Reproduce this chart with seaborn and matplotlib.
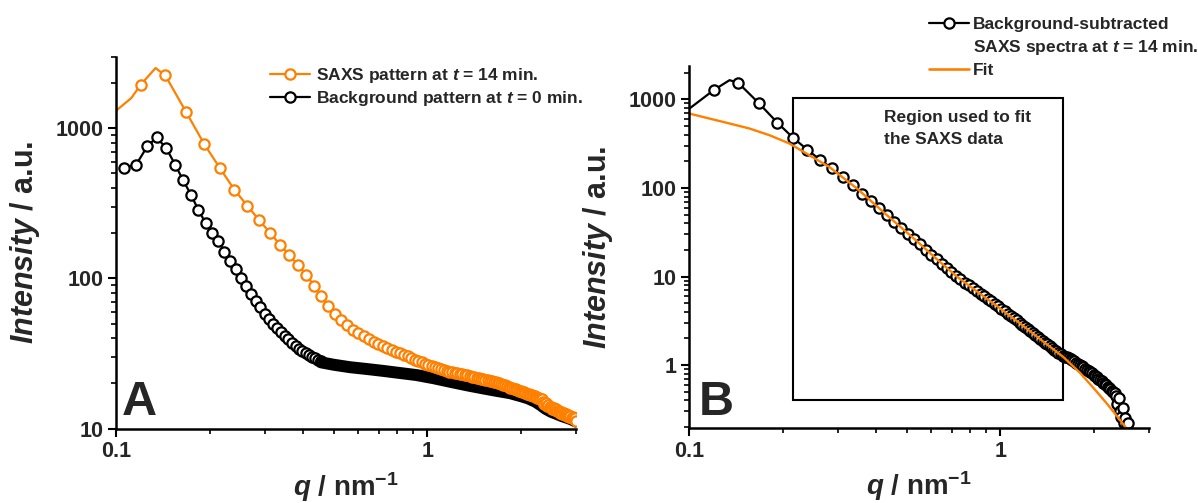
import seaborn as sns
import matplotlib.pyplot as plt
from matplotlib.lines import Line2D
from matplotlib.patches import Rectangle
from matplotlib.ticker import FixedLocator, FixedFormatter, LogLocator, NullFormatter

# Panel A: SAXS pattern at t = 14 min (orange), q in nm^-1, intensity in a.u.
saxs_q = [0.096, 0.112, 0.120, 0.134, 0.144, 0.168, 0.192, 0.216, 0.240, 0.264,
          0.288, 0.312, 0.336, 0.360, 0.384, 0.408, 0.432, 0.456, 0.480, 0.504,
          0.528, 0.552, 0.576, 0.600, 0.624, 0.648, 0.672, 0.696, 0.720, 0.744,
          0.768, 0.792, 0.816, 0.840, 0.864, 0.888, 0.912, 0.936, 0.960, 0.984,
          1.008, 1.032, 1.056, 1.080, 1.104, 1.128, 1.152, 1.176, 1.200, 1.224,
          1.248, 1.272, 1.296, 1.320, 1.344, 1.368, 1.392, 1.416, 1.440, 1.464,
          1.488, 1.512, 1.536, 1.560, 1.584, 1.608, 1.632, 1.656, 1.680, 1.704,
          1.728, 1.752, 1.776, 1.800, 1.824, 1.848, 1.872, 1.896, 1.920, 1.944,
          1.968, 1.992, 2.016, 2.040, 2.064, 2.088, 2.112, 2.136, 2.160, 2.184,
          2.208, 2.232, 2.256, 2.280, 2.304, 2.328, 2.352, 2.376, 2.400, 2.424,
          2.448, 2.472, 2.496, 2.520, 2.544, 2.568, 2.592, 2.616, 2.640, 2.664,
          2.688, 2.712, 2.736, 2.760, 2.784, 2.808, 2.832, 2.856, 2.880, 2.904,
          2.928, 2.952, 2.976, 3.000]
saxs_I = [1220, 1590, 1950, 2520, 2250, 1283, 785, 540, 390, 305,
          245, 202, 168, 143, 123, 106, 89.6, 76.5, 65.9, 57.9,
          53.0, 48.7, 45.6, 43.2, 41.1, 39.3, 37.8, 36.4, 35.2, 34.2,
          33.4, 32.5, 31.7, 30.9, 30.2, 29.5, 28.8, 28.3, 27.7, 27.1,
          26.6, 26.0, 25.6, 25.3, 24.9, 24.6, 24.3, 23.9, 23.7, 23.5,
          23.4, 23.2, 23.0, 22.8, 22.6, 22.4, 22.2, 22.0, 21.8, 21.7,
          21.5, 21.3, 21.1, 21.0, 20.8, 20.6, 20.5, 20.3, 20.2, 20.1,
          19.8, 19.6, 19.4, 19.2, 19.0, 18.7, 18.6, 18.4, 18.2, 18.0,
          17.9, 17.7, 17.5, 17.4, 17.2, 17.1, 16.9, 16.8, 16.6, 16.5,
          16.4, 16.2, 16.0, 15.9, 15.8, 15.7, 15.0, 14.6, 14.8, 14.2,
          14.4, 13.9, 14.0, 13.5, 13.7, 13.2, 13.4, 13.0, 13.1, 12.7,
          12.9, 12.5, 12.7, 12.3, 12.5, 12.1, 12.3, 11.9, 12.1, 11.7,
          11.9, 11.5, 11.7, 11.3]
saxs_line_only = [1, 3]   # spline overshoot points, no symbol drawn

# Panel A: background pattern at t = 0 min (black), sparse part
bg_q = [0.106, 0.116, 0.126, 0.135, 0.145, 0.155, 0.164, 0.174, 0.184, 0.194,
        0.203, 0.213, 0.223, 0.232, 0.242, 0.252, 0.261, 0.271, 0.281, 0.291,
        0.300, 0.310, 0.320, 0.329, 0.339, 0.349, 0.358, 0.368, 0.378, 0.388,
        0.397, 0.407, 0.417, 0.426, 0.436, 0.446, 0.455]
bg_I = [543, 571, 757, 869, 738, 571, 454, 362, 285, 234,
        202, 177, 151, 131, 116, 100, 89.0, 79.2, 71.1, 64.0,
        58.0, 53.8, 50.0, 46.8, 44.0, 41.4, 39.2, 37.4, 35.7, 34.1,
        32.9, 31.8, 30.8, 30.0, 29.3, 28.7, 28.0]
# dense part of the background (points overlap into a solid band)
bg_band_q = [0.455, 0.50, 0.565, 0.64, 0.721, 0.82, 0.923, 1.05, 1.18, 1.34,
             1.51, 1.67, 1.84, 2.0, 2.1, 2.22, 2.3, 2.4, 2.5, 2.6, 2.7, 2.8, 2.9, 3.0]
bg_band_I = [27.6, 26.6, 25.6, 24.9, 24.2, 23.4, 22.7, 21.6, 20.5, 19.4,
             18.5, 17.8, 17.2, 16.4, 15.9, 15.1, 14.4, 13.5, 12.9, 12.5, 12.1, 11.8, 11.5, 11.1]

# Panel B: background-subtracted spectrum at t = 14 min
sub_q = [0.096, 0.120, 0.135, 0.144, 0.168, 0.192, 0.216, 0.240, 0.264, 0.288,
         0.312, 0.336, 0.360, 0.384, 0.408, 0.432, 0.456, 0.480, 0.504, 0.528,
         0.552, 0.576, 0.600, 0.624, 0.648, 0.672, 0.696, 0.720, 0.744, 0.768,
         0.792, 0.816, 0.840, 0.864, 0.888, 0.912, 0.936, 0.960, 0.984, 1.008,
         1.032, 1.056, 1.080, 1.104, 1.128, 1.152, 1.176, 1.200, 1.224, 1.248,
         1.272, 1.296, 1.320, 1.344, 1.368, 1.392, 1.416, 1.440, 1.464, 1.488,
         1.512, 1.536, 1.560, 1.584, 1.608, 1.632, 1.656, 1.680, 1.704, 1.728,
         1.752, 1.776, 1.800, 1.824, 1.848, 1.872, 1.896, 1.920, 1.944, 1.968,
         1.992, 2.016, 2.040, 2.064, 2.088, 2.112, 2.136, 2.160, 2.184, 2.208,
         2.232, 2.256, 2.280, 2.304, 2.328, 2.352, 2.376, 2.400, 2.424, 2.448,
         2.472, 2.496, 2.520, 2.544, 2.568]
sub_I = [700, 1270, 1648, 1536, 899, 548, 368, 270, 207, 166,
         133, 107, 86.5, 70.9, 58.7, 49.2, 41.6, 35.5, 30.5, 26.4,
         23.0, 20.1, 17.7, 15.7, 14.0, 12.5, 11.2, 10.1, 9.26, 8.56,
         7.93, 7.36, 6.85, 6.39, 5.97, 5.59, 5.24, 4.92, 4.62, 4.33,
         4.06, 3.81, 3.59, 3.38, 3.19, 3.01, 2.85, 2.70, 2.55, 2.42,
         2.30, 2.18, 2.08, 1.98, 1.89, 1.80, 1.71, 1.64, 1.56, 1.50,
         1.43, 1.37, 1.32, 1.28, 1.25, 1.22, 1.19, 1.16, 1.13, 1.11,
         1.07, 1.04, 1.01, 0.973, 0.942, 0.913, 0.884, 0.857, 0.831, 0.806,
         0.779, 0.752, 0.726, 0.702, 0.678, 0.655, 0.633, 0.611, 0.589, 0.569,
         0.550, 0.531, 0.514, 0.497, 0.480, 0.45, 0.36, 0.42, 0.30, 0.26,
         0.33, 0.22, 0.25, 0.21, 0.22]
sub_line_only = [2]

# Panel B: fit
fit_q = [0.1, 0.116, 0.135, 0.156, 0.181, 0.21, 0.243, 0.282, 0.347, 0.43,
         0.533, 0.63, 0.7245, 0.85, 0.978, 1.15, 1.35, 1.59, 1.8, 2.02,
         2.2, 2.33, 2.5, 2.6]
fit_I = [693, 609, 534, 470, 395, 318, 235, 173, 98, 50,
         26, 15.3, 10.0, 6.6, 4.6, 3.0, 1.93, 1.24, 0.82, 0.52,
         0.366, 0.285, 0.207, 0.17]

# region used for the fit (q range, intensity range)
fit_region_q = (0.216, 1.59)
fit_region_I = (0.40, 1030)

x_ticks = [0.1, 1]
x_ticklabels = ['0.1', '1']
yA_ticks = [10, 100, 1000]
yA_ticklabels = ['10', '100', '1000']
yB_ticks = [1, 10, 100, 1000]
yB_ticklabels = ['1', '10', '100', '1000']

legA_labels = [r'SAXS pattern at $\mathit{t}$ = 14 min.',
               r'Background pattern at $\mathit{t}$ = 0 min.']
legB_labels = ['Background-subtracted',
               r'SAXS spectra at $\mathit{t}$ = 14 min.',
               'Fit']

ORANGE = '#ff8000'

sns.set_style('ticks')
plt.rcParams['font.family'] = ['Liberation Sans', 'DejaVu Sans']
plt.rcParams['font.weight'] = 'bold'
plt.rcParams['axes.labelweight'] = 'bold'
plt.rcParams['mathtext.fontset'] = 'custom'
plt.rcParams['mathtext.rm'] = 'Liberation Sans:bold'
plt.rcParams['mathtext.bf'] = 'Liberation Sans:bold'
plt.rcParams['mathtext.it'] = 'Liberation Sans:italic:bold'
plt.rcParams['mathtext.default'] = 'rm'

fig = plt.figure(figsize=(11.98, 5.03), dpi=100)
axA = fig.add_axes([0.0968, 0.1481, 0.384, 0.7392])
axB = fig.add_axes([0.5751, 0.1491, 0.384, 0.7203])

mk = dict(marker='o', markersize=7.4, markeredgewidth=1.6, markerfacecolor='white')

for ax in (axA, axB):
    ax.set_xscale('log')
    ax.set_yscale('log')

# ---- panel A
sns.lineplot(x=bg_q, y=bg_I, ax=axA, color='black', linewidth=1.6,
             markeredgecolor='black', estimator=None, sort=False, **mk)
sns.lineplot(x=bg_band_q, y=bg_band_I, ax=axA, color='black', linewidth=8.6,
             solid_capstyle='round', estimator=None, sort=False)
saxs_marks = [i for i in range(len(saxs_q)) if i not in saxs_line_only]
sns.lineplot(x=saxs_q, y=saxs_I, ax=axA, color=ORANGE, linewidth=1.6,
             markeredgecolor=ORANGE, markevery=saxs_marks,
             estimator=None, sort=False, **mk)

# ---- panel B
sub_marks = [i for i in range(len(sub_q)) if i not in sub_line_only]
sns.lineplot(x=sub_q, y=sub_I, ax=axB, color='black', linewidth=1.6,
             markeredgecolor='black', markevery=sub_marks,
             estimator=None, sort=False, **mk)
sns.lineplot(x=fit_q, y=fit_I, ax=axB, color=ORANGE, linewidth=1.7,
             estimator=None, sort=False)
axB.add_patch(Rectangle((fit_region_q[0], fit_region_I[0]),
                        fit_region_q[1] - fit_region_q[0],
                        fit_region_I[1] - fit_region_I[0],
                        fill=False, edgecolor='black', linewidth=1.5, zorder=1))
axB.text(0.424, 760, 'Region used to fit\nthe SAXS data', fontsize=12.5,
         fontweight='bold', va='top', ha='left', linespacing=1.55)

# ---- axes styling
for ax, yt, ytl, ylim, letter, lx in ((axA, yA_ticks, yA_ticklabels, (10, 3000), 'A', 0.013),
                                      (axB, yB_ticks, yB_ticklabels, (0.195, 2400), 'B', 0.022)):
    ax.set_xlim(0.1, 3.0)
    ax.set_ylim(*ylim)
    ax.xaxis.set_major_locator(FixedLocator(x_ticks))
    ax.xaxis.set_major_formatter(FixedFormatter(x_ticklabels))
    ax.yaxis.set_major_locator(FixedLocator(yt))
    ax.yaxis.set_major_formatter(FixedFormatter(ytl))
    for axis in (ax.xaxis, ax.yaxis):
        axis.set_minor_locator(LogLocator(base=10, subs=(2, 3, 4, 5, 6, 7, 8, 9), numticks=20))
        axis.set_minor_formatter(NullFormatter())
    sns.despine(ax=ax)
    for s in ('left', 'bottom'):
        ax.spines[s].set_linewidth(1.8)
        ax.spines[s].set_color('black')
    ax.tick_params(which='major', direction='out', length=6, width=1.5,
                   labelsize=15.5, pad=3, color='black')
    ax.tick_params(which='minor', direction='out', length=3.5, width=1.2, color='black')
    ax.set_ylabel(r'$\mathit{Intensity}$ / a.u.', fontsize=22)
    ax.set_xlabel(r'$\mathit{q}$ / nm$^{-1}$', fontsize=20)
    ax.yaxis.set_label_coords(-0.16, 0.5)
    ax.xaxis.set_label_coords(0.5, -0.113)
    ax.text(lx, 0.036, letter, transform=ax.transAxes, fontsize=35,
            fontweight='bold', va='baseline', ha='left')

# ---- legends
hA = [Line2D([], [], color=ORANGE, linewidth=1.6, markeredgecolor=ORANGE, **mk),
      Line2D([], [], color='black', linewidth=1.6, markeredgecolor='black', **mk)]
fig.legend(hA, legA_labels, loc='upper left', bbox_to_anchor=(0.2254, 0.869),
           frameon=False, fontsize=12.5, handlelength=2.3, handletextpad=0.35,
           labelspacing=0.25, borderpad=0, borderaxespad=0)

hB = [Line2D([], [], color='black', linewidth=1.6, markeredgecolor='black', **mk),
      Line2D([], [], linestyle='none'),
      Line2D([], [], color=ORANGE, linewidth=1.9)]
fig.legend(hB, legB_labels, loc='upper left', bbox_to_anchor=(0.7755, 0.967),
           frameon=False, fontsize=12.5, handlelength=2.3, handletextpad=0.25,
           labelspacing=0.36, borderpad=0, borderaxespad=0)

fig.savefig('out.png', dpi=100)
